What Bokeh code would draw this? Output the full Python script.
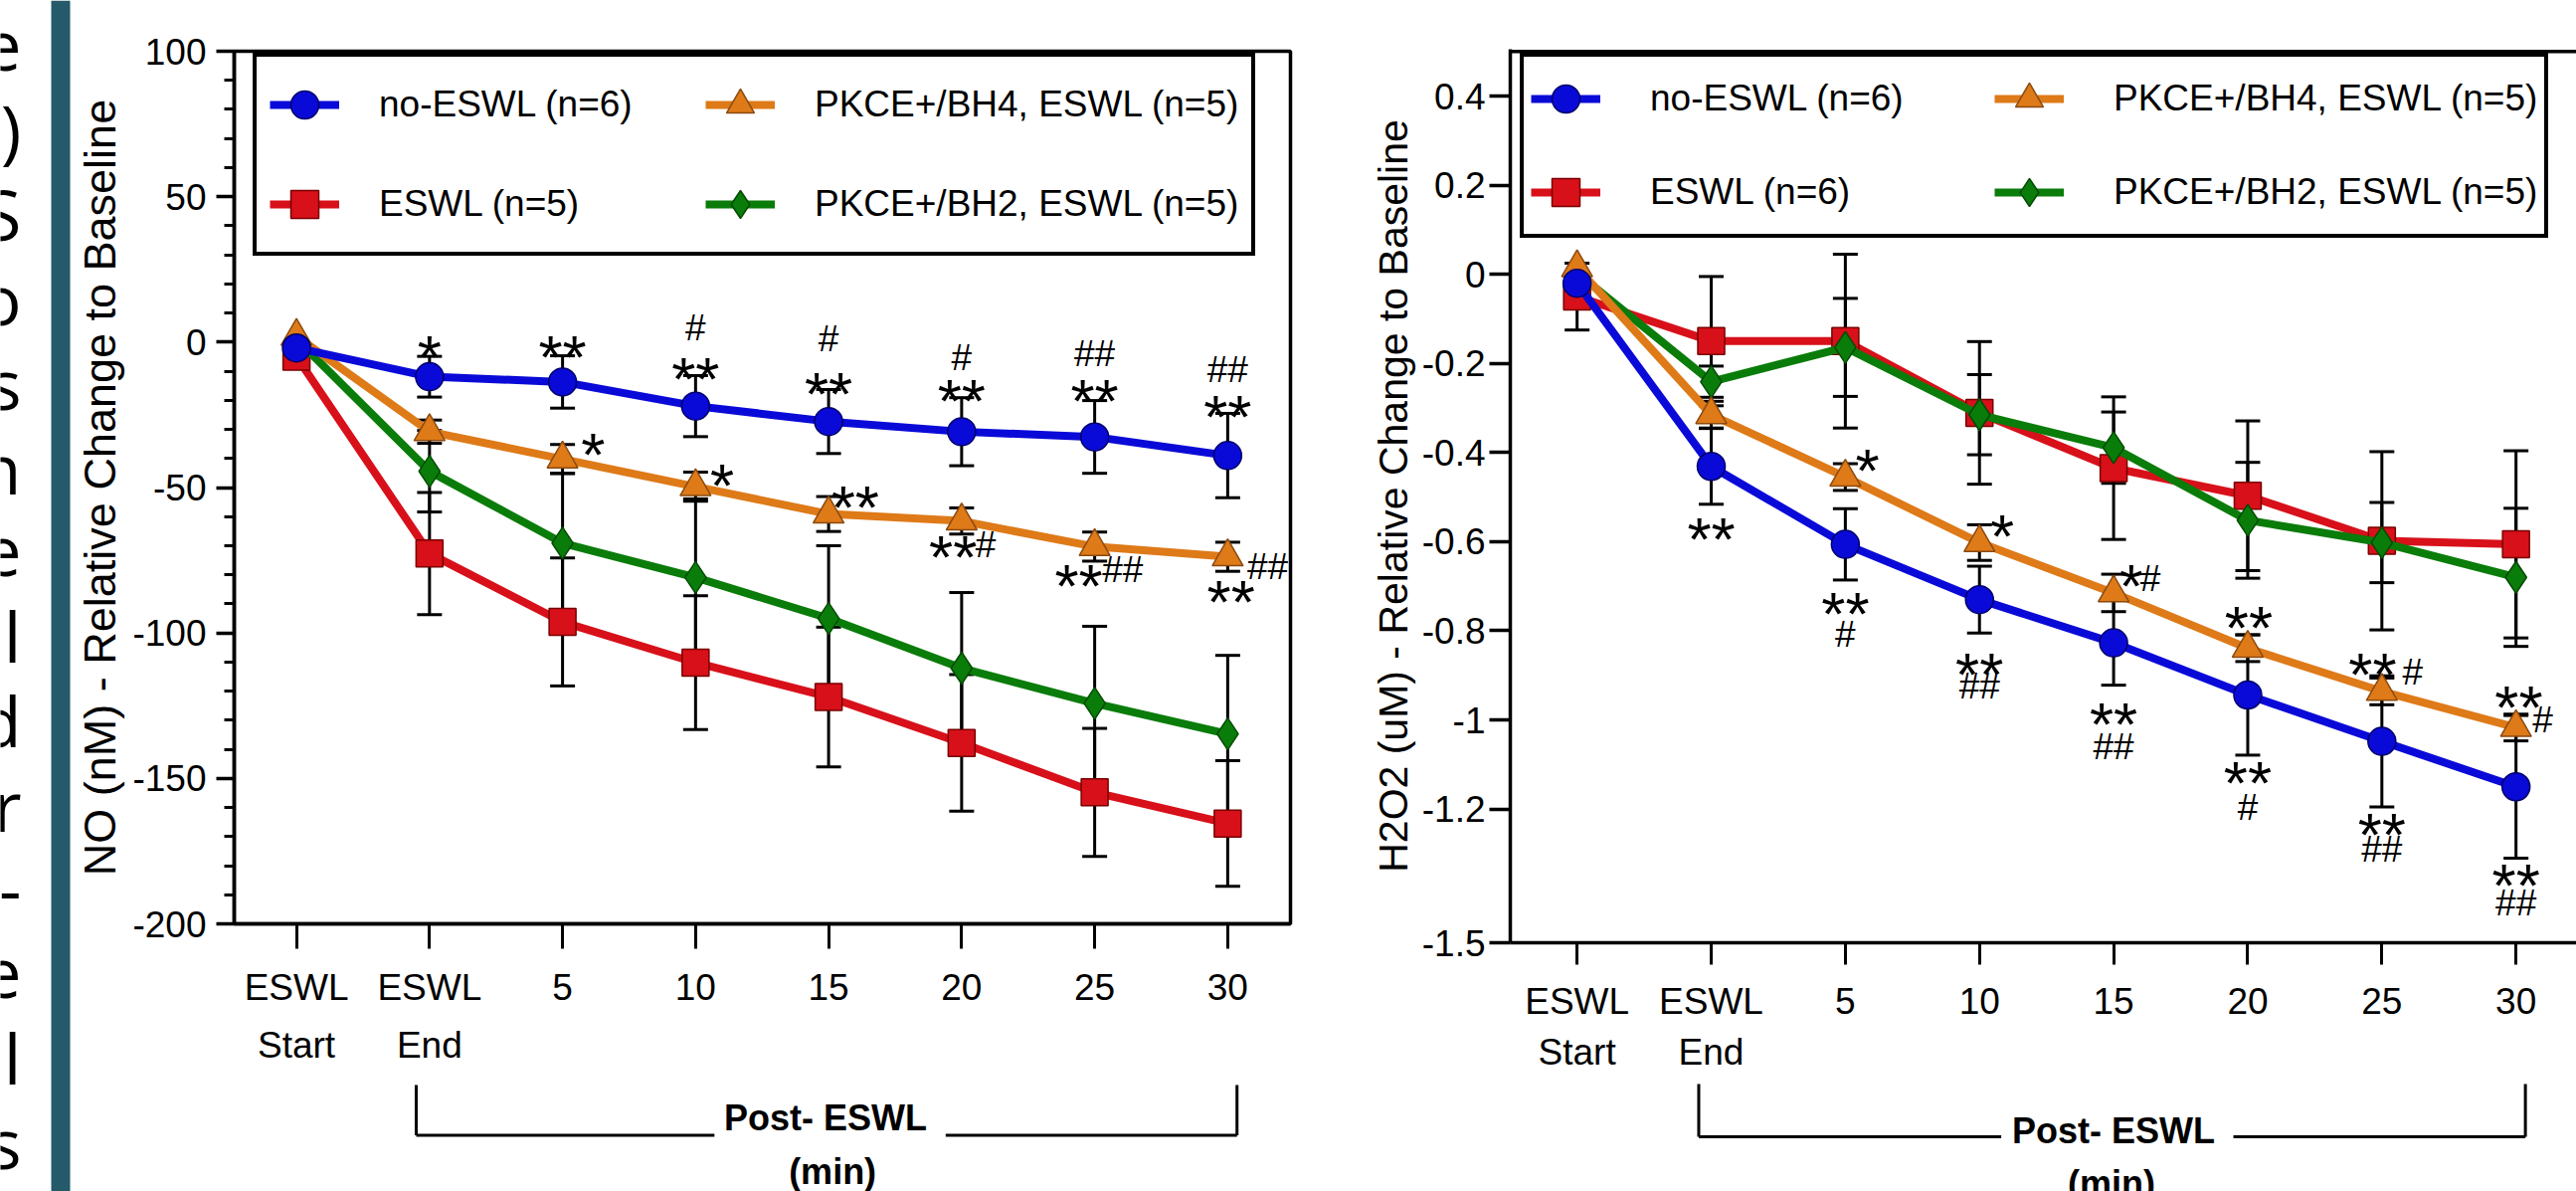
from bokeh.plotting import figure
from bokeh.models import (ColumnDataSource, Range1d, FixedTicker, Legend, LegendItem,
                          Whisker, TeeHead, Span)
from bokeh.layouts import row, column
from bokeh.embed import file_html
from bokeh.resources import INLINE
from bokeh.core.properties import value

SANS = "Liberation Sans"

# ---------------- data ----------------
x_labels = ["ESWL\nStart", "ESWL\nEnd", "5", "10", "15", "20", "25", "30"]

no_names = ["no-ESWL (n=6)", "ESWL (n=5)", "PKCE+/BH4, ESWL (n=5)", "PKCE+/BH2, ESWL (n=5)"]
no_noeswl = [-2, -11.9, -13.7, -22.0, -27.3, -30.8, -32.6, -39.0]
no_noeswl_err = [0, 7, 9, 10.5, 11, 11.7, 12.5, 14.5]
no_eswl = [-5, -72.7, -96.2, -110.2, -122.0, -137.8, -154.8, -165.5]
no_eswl_err = [3, 21, 22, 23, 24, 23.5, 22, 21.6]
no_bh4 = [2, -30.8, -40.2, -49.7, -59.1, -61.5, -70.3, -73.8]
no_bh4_err = [0, 4, 5, 5, 6, 4.5, 5, 5]
no_bh2 = [1, -44.4, -69.1, -80.9, -95.0, -112.1, -124.2, -134.7]
no_bh2_err = [0, 14, 24, 27, 25, 26, 26.5, 27]

h2_names = ["no-ESWL (n=6)", "ESWL (n=6)", "PKCE+/BH4, ESWL (n=5)", "PKCE+/BH2, ESWL (n=5)"]
h2_noeswl = [-0.02, -0.431, -0.606, -0.730, -0.827, -0.944, -1.048, -1.150]
h2_noeswl_err = [0, 0.085, 0.08, 0.075, 0.095, 0.135, 0.147, 0.16]
h2_eswl = [-0.05, -0.15, -0.15, -0.311, -0.435, -0.497, -0.598, -0.606]
h2_eswl_err = [0.075, 0.145, 0.195, 0.16, 0.16, 0.168, 0.2, 0.21]
h2_bh4 = [0.015, -0.315, -0.455, -0.602, -0.715, -0.839, -0.936, -1.017]
h2_bh4_err = [0, 0.03, 0.03, 0.04, 0.042, 0.03, 0.03, 0.03]
h2_bh2 = [0.003, -0.241, -0.164, -0.315, -0.389, -0.552, -0.602, -0.680]
h2_bh2_err = [0, 0.035, 0.11, 0.09, 0.08, 0.13, 0.09, 0.155]

no_yticks = [-200, -150, -100, -50, 0, 50, 100]
no_ytick_labels = ["-200", "-150", "-100", "-50", "0", "50", "100"]
h2_yticks = [0.4, 0.2, 0, -0.2, -0.4, -0.6, -0.8, -1, -1.2, -1.5]
h2_ytick_labels = ["0.4", "0.2", "0", "-0.2", "-0.4", "-0.6", "-0.8", "-1", "-1.2", "-1.5"]

# significance marks (x in category index units, y in data units)
no_star_x = [1, 2, 3, 4, 5, 6, 7, 2.23, 3.20, 4.20, 4.935, 5.88, 7.025]
no_star_y = [-0.75, -0.75, -8.4, -13.7, -16.1, -16.1, -21.4, -34.4, -45.0, -52.6, -69.7, -79.7, -85.0]
no_star_t = ["*", "**", "**", "**", "**", "**", "**", "*", "*", "**", "**", "**", "**"]
no_hash_x = [3, 4, 5, 6, 7, 5.18, 6.21, 7.30]
no_hash_y = [3.4, -0.2, -6.6, -5.5, -10.8, -70.9, -79.7, -78.5]
no_hash_t = ["#", "#", "#", "##", "##", "#", "##", "##"]

h2_star_x = [1, 2, 3, 4, 5, 6, 7, 2.165, 3.17, 4.131, 5.007, 5.93, 7.02]
h2_star_y = [-0.566, -0.734, -0.870, -0.982, -1.114, -1.230, -1.344, -0.412, -0.560, -0.672, -0.765, -0.870, -0.944]
h2_star_t = ["**", "**", "**", "**", "**", "**", "**", "*", "*", "*", "**", "**", "**"]
h2_hash_x = [2, 3, 4, 5, 6, 7, 4.273, 6.23, 7.2]
h2_hash_y = [-0.816, -0.932, -1.068, -1.206, -1.299, -1.420, -0.691, -0.901, -1.009]
h2_hash_t = ["#", "##", "##", "#", "##", "##", "#", "#", "#"]

side_letters = ["e", ")", "S", "o", "s", "n", "e", "l", "d", "r", "-", "e", "l", "s"]

# ---------------- styles ----------------
STY = [
    dict(color="#0a0ad8", edge="#00006a", marker="circle", size=28),     # no-ESWL
    dict(color="#d8101a", edge="#780000", marker="square", size=27),     # ESWL
    dict(color="#de7a18", edge="#8a4a10", marker="triangle", size=31),   # PKCE+/BH4
    dict(color="#0a7c0a", edge="#044a04", marker="diamond", size=32),    # PKCE+/BH2
]
DRAW_ORDER = [1, 3, 2, 0]
FS = "37px"


def base_fig(width, height, xr, yr, ml, mr, mt, mb, axes=True):
    kw = dict(width=width, height=height, x_range=xr, y_range=yr,
              toolbar_location=None, output_backend="svg", title=None,
              min_border_left=ml, min_border_right=mr,
              min_border_top=mt, min_border_bottom=mb)
    if not axes:
        kw.update(x_axis_location=None, y_axis_location=None)
    p = figure(**kw)
    p.xgrid.visible = False
    p.ygrid.visible = False
    p.background_fill_color = "white"
    p.border_fill_color = "white"
    p.outline_line_color = None
    return p


def build_chart(p, names, vals, errs, legend_loc, legend_cfg, stars, hashes):
    xs = list(range(len(x_labels)))
    lines, dots = {}, {}
    for k in DRAW_ORDER:
        ex = [x for x, e in zip(xs, errs[k]) if e > 0]
        lo = [v - e for v, e in zip(vals[k], errs[k]) if e > 0]
        hi = [v + e for v, e in zip(vals[k], errs[k]) if e > 0]
        wsrc = ColumnDataSource(dict(x=ex, lo=lo, hi=hi))
        w = Whisker(source=wsrc, base="x", lower="lo", upper="hi",
                    line_color="black", line_width=3, level="underlay",
                    upper_head=TeeHead(size=25, line_width=3, line_color="black"),
                    lower_head=TeeHead(size=25, line_width=3, line_color="black"))
        p.add_layout(w)
    for k in DRAW_ORDER:
        s = STY[k]
        src = ColumnDataSource(dict(x=xs, y=vals[k]))
        lines[k] = p.line("x", "y", source=src, line_width=8, line_color=s["color"])
        dots[k] = p.scatter("x", "y", source=src, marker=s["marker"], size=s["size"],
                            fill_color=s["color"], line_color=s["edge"], line_width=1.5)
    items = [LegendItem(label=names[k], renderers=[lines[k], dots[k]]) for k in range(4)]
    leg = Legend(items=items, location=legend_loc, orientation="vertical", nrows=2,
                 margin=0, border_line_color="black", border_line_width=4,
                 border_line_alpha=1.0,
                 background_fill_color="white", background_fill_alpha=1.0,
                 label_text_font=SANS, label_text_font_size=FS,
                 label_text_color="black", glyph_width=70, glyph_height=70,
                 **legend_cfg)
    p.add_layout(leg)

    sx, sy, st = stars
    p.text(x=sx, y=sy, text=st, text_font=value(SANS), text_font_size="62px",
           text_align="center", text_baseline="alphabetic", y_offset=12,
           text_color="black")
    hx, hy, ht = hashes
    p.text(x=hx, y=hy, text=ht, text_font=value(SANS), text_font_size="37px",
           text_align="center", text_baseline="alphabetic", y_offset=-4,
           text_color="black")


def style_axes(p, ylabel, ylabel_size, yticks, ylabels, minor, ytick_out, ystandoff,
               ylabstand, xtick_out, xstandoff, xline_h):
    ya = p.yaxis[0]
    ya.ticker = FixedTicker(ticks=yticks, minor_ticks=minor)
    ya.major_label_overrides = dict(zip(yticks, ylabels))
    ya.axis_line_width = 3.5
    ya.axis_line_color = "black"
    ya.major_tick_line_width = 3.5
    ya.major_tick_line_color = "black"
    ya.major_tick_out = ytick_out
    ya.major_tick_in = 0
    ya.minor_tick_line_width = 3
    ya.minor_tick_line_color = "black"
    ya.minor_tick_out = 10
    ya.minor_tick_in = 0
    ya.major_label_text_font = SANS
    ya.major_label_text_font_size = FS
    ya.major_label_text_color = "black"
    ya.major_label_standoff = ystandoff
    ya.axis_label = ylabel
    ya.axis_label_text_font = SANS
    ya.axis_label_text_font_size = ylabel_size
    ya.axis_label_text_font_style = "normal"
    ya.axis_label_text_color = "black"
    ya.axis_label_standoff = ylabstand

    xa = p.xaxis[0]
    xa.ticker = FixedTicker(ticks=list(range(len(x_labels))))
    xa.major_label_overrides = {i: lab for i, lab in enumerate(x_labels)}
    xa.axis_line_width = 3.5
    xa.axis_line_color = "black"
    xa.major_tick_line_width = 3
    xa.major_tick_line_color = "black"
    xa.major_tick_out = xtick_out
    xa.major_tick_in = 0
    xa.minor_tick_out = 0
    xa.minor_tick_in = 0
    xa.major_label_text_font = SANS
    xa.major_label_text_font_size = FS
    xa.major_label_text_color = "black"
    xa.major_label_text_line_height = xline_h
    xa.major_label_standoff = xstandoff


def bracket(xr, width, height, ml, mr, y_top, y_bottom, b0, b1, g0, g1, yline,
            tx, ty, mx, my):
    p = base_fig(width, height, xr, Range1d(y_bottom, y_top), ml, mr, 0, 0, axes=False)
    p.segment(x0=[b0, b0, g1, b1], y0=[y_top - 5, yline, yline, yline],
              x1=[b0, g0, b1, b1], y1=[yline, yline, yline, y_top - 5],
              line_color="black", line_width=3)
    p.text(x=[tx], y=[ty], text=["Post- ESWL"], text_font=value(SANS),
           text_font_style="bold", text_font_size="36px", text_align="center",
           text_baseline="middle", text_color="black")
    p.text(x=[mx], y=[my], text=["(min)"], text_font=value(SANS),
           text_font_style="bold", text_font_size="36px", text_align="center",
           text_baseline="middle", text_color="black")
    return p


# ---------------- left strip ----------------
strip = base_fig(72, 1197, Range1d(0, 72), Range1d(1197, 0), 0, 0, 0, 0, axes=False)
strip.quad(left=[51], right=[70], top=[0], bottom=[1197], fill_color="#245a6a",
           line_color=None)
strip.text(x=[21] * len(side_letters),
           y=[45 + 84.8 * k for k in range(len(side_letters))],
           text=side_letters, text_font=value("Open Sans"), text_font_size="70px",
           text_align="right", text_baseline="alphabetic", text_color="black")

# ---------------- NO chart ----------------
left = base_fig(1238, 1090, Range1d(-0.468, 7.472), Range1d(-200, 100), 161, 13, 51, 162)
left.outline_line_color = "black"
left.outline_line_width = 3.5
style_axes(left, "NO (nM) - Relative Change to Baseline", "45px", no_yticks,
           no_ytick_labels, [v for v in range(-190, 100, 10) if v % 50 != 0],
           18, 10, 4, 25, 18, 1.43)
build_chart(left, no_names, [no_noeswl, no_eswl, no_bh4, no_bh2],
            [no_noeswl_err, no_eswl_err, no_bh4_err, no_bh2_err],
            (19, 671), dict(padding=13, spacing=30, label_standoff=40, label_width=298),
            (no_star_x, no_star_y, no_star_t), (no_hash_x, no_hash_y, no_hash_t))
left_br = bracket(left.x_range, 1238, 107, 161, 13, 1090, 1197, 0.90, 7.07, 3.142,
                  4.880, 1140.5, 3.976, 1123, 4.03, 1177)

# ---------------- H2O2 chart ----------------
right = base_fig(1280, 1089, Range1d(-0.498, 7.451), Range1d(-1.5, 0.505), 208, 0, 49, 142)
right.add_layout(Span(location=0.5, dimension="width", line_color="black", line_width=3.5))
style_axes(right, "H2O2 (uM) - Relative Change to Baseline", "41px", h2_yticks,
           h2_ytick_labels, [], 21, 4, 3, 22, 16, 1.26)
build_chart(right, h2_names, [h2_noeswl, h2_eswl, h2_bh4, h2_bh2],
            [h2_noeswl_err, h2_eswl_err, h2_bh4_err, h2_bh2_err],
            (10, 708), dict(padding=7, spacing=24, label_standoff=50, label_width=322),
            (h2_star_x, h2_star_y, h2_star_t), (h2_hash_x, h2_hash_y, h2_hash_t))
right_br = bracket(right.x_range, 1280, 108, 208, 0, 1089, 1197, 0.907, 7.07, 3.162,
                   4.893, 1142, 3.999, 1136, 3.984, 1189)

layout = row(strip, column(left, left_br), column(right, right_br))
open("out.html", "w").write(file_html(layout, INLINE))
